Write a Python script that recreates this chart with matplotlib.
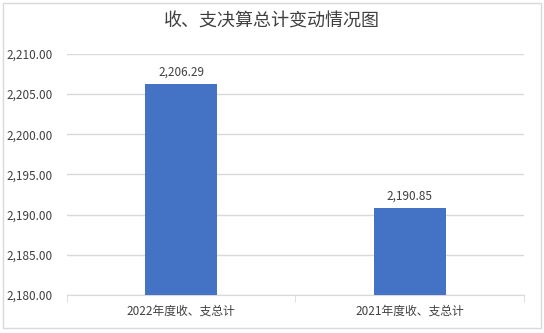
import matplotlib.pyplot as plt
from matplotlib.patches import Rectangle
from matplotlib.ticker import FuncFormatter

plt.rcParams['font.family'] = ['Noto Sans CJK SC', 'DejaVu Sans']

categories = ["2022年度收、支总计", "2021年度收、支总计"]
values = [2206.29, 2190.85]
title = "收、支决算总计变动情况图"

fig = plt.figure(figsize=(5.44, 3.33), dpi=100)
ax = fig.add_axes([0.123, 0.114, 0.840, 0.724])

# outer frame
fig.patches.append(Rectangle((3 / 544, 5 / 333), 538 / 544, 325 / 333, transform=fig.transFigure,
                             fill=False, edgecolor="#d9d9d9", linewidth=1))

x = range(len(categories))
bars = ax.bar(x, values, width=0.315, color="#4472c4", zorder=3)
for b, v in zip(bars, values):
    ax.text(b.get_x() + b.get_width() / 2, v + 0.6, f"{v:,.2f}", ha="center", va="bottom",
            fontsize=8.5, color="#404040")

ax.set_xlim(-0.5, 1.5)
ax.set_ylim(2180, 2210)
ax.set_yticks(range(2180, 2211, 5))
ax.yaxis.set_major_formatter(FuncFormatter(lambda v, p: f"{v:,.2f}"))
ax.set_xticks(x)
ax.set_xticklabels(categories)
ax.set_xticks([-0.5, 0.5, 1.5], minor=True)
ax.tick_params(axis="x", which="major", length=0, labelsize=8.5, labelcolor="#404040", pad=7)
ax.tick_params(axis="x", which="minor", length=5, color="#d9d9d9")
ax.tick_params(axis="y", length=0, labelsize=8.5, labelcolor="#404040", pad=10)
ax.grid(axis="y", color="#d9d9d9", linewidth=1, zorder=0)
for s in ["top", "right", "left"]:
    ax.spines[s].set_visible(False)
ax.spines["bottom"].set_color("#d9d9d9")

fig.text(0.5, 0.935, title, ha="center", va="center", fontsize=13, color="#404040")

fig.savefig("out.png", dpi=100)
